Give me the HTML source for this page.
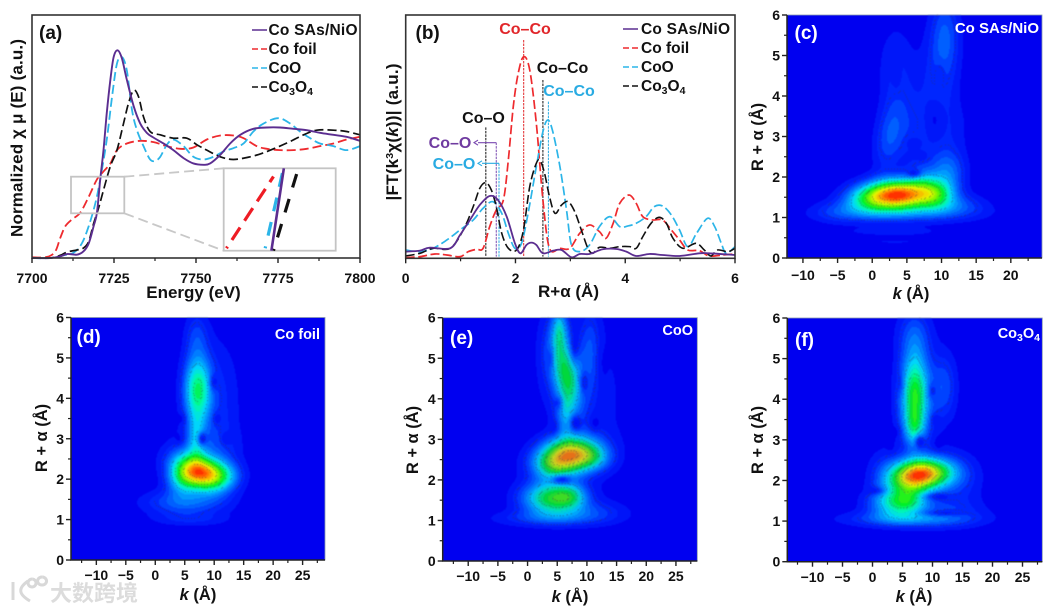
<!DOCTYPE html>
<html lang="en">
<head>
<meta charset="utf-8">
<title>XANES, EXAFS and wavelet transform panels</title>
<style>
html,body{margin:0;padding:0;background:#fff;width:1050px;height:610px;overflow:hidden}
svg{display:block}
#fig{filter:blur(.35px)}
text{font-family:"Liberation Sans","Noto Sans CJK SC",sans-serif;font-weight:bold;fill:#111}
.lbl{font-size:15.5px}
.tick{font-size:14px}
.title{font-size:17px}
.htitle{font-size:16.5px}
.plabel{font-size:19px}
.heatblur{filter:blur(.6px)}
</style>
</head>
<body>
<svg id="fig" xmlns="http://www.w3.org/2000/svg" width="1050" height="610" viewBox="0 0 1050 610">
  <g id="panelA"></g>
  <g id="panelB"></g>
  <g id="heatC"></g>
  <g id="heatD"></g>
  <g id="heatE"></g>
  <g id="heatF"></g>

  <!-- panel a text -->
  <text class="plabel" x="39" y="39">(a)</text>
  <text class="title" x="193.500" y="298" text-anchor="middle">Energy (eV)</text>
  <text class="title" transform="translate(22.500,138) rotate(-90)" text-anchor="middle" textLength="198">Normalized χ μ (E) (a.u.)</text>
  <g>
    <line x1="252" x2="267" y1="30" y2="30" stroke="#5b2d90" stroke-width="1.500"/>
    <text class="lbl" x="268.500" y="35" textLength="89">Co SAs/NiO</text>
    <line x1="252" x2="267" y1="49" y2="49" stroke="#ee2a2e" stroke-width="1.500" stroke-dasharray="6 3"/>
    <text class="lbl" x="268.500" y="54">Co foil</text>
    <line x1="252" x2="267" y1="68" y2="68" stroke="#2cb5e8" stroke-width="1.500" stroke-dasharray="6 3"/>
    <text class="lbl" x="268.500" y="73">CoO</text>
    <line x1="252" x2="267" y1="87" y2="87" stroke="#111" stroke-width="1.500" stroke-dasharray="6 3"/>
    <text class="lbl" x="268.500" y="92">Co<tspan font-size="10.500" dy="3">3</tspan><tspan dy="-3">O</tspan><tspan font-size="10.500" dy="3">4</tspan></text>
  </g>

  <!-- panel b text -->
  <text class="plabel" x="415.500" y="39">(b)</text>
  <text class="title" x="568.500" y="297" text-anchor="middle">R+α (Å)</text>
  <text class="title" transform="translate(398,132) rotate(-90)" text-anchor="middle" textLength="137">|FT(k<tspan font-size="10.500" dy="-5">3</tspan><tspan dy="5">χ(</tspan><tspan font-style="italic">k</tspan>))| (a.u.)</text>
  <g>
    <line x1="623" x2="638" y1="29" y2="29" stroke="#5b2d90" stroke-width="1.500"/>
    <text class="lbl" x="641" y="34" textLength="89">Co SAs/NiO</text>
    <line x1="623" x2="638" y1="48" y2="48" stroke="#ee2a2e" stroke-width="1.500" stroke-dasharray="6 3"/>
    <text class="lbl" x="641" y="53">Co foil</text>
    <line x1="623" x2="638" y1="67" y2="67" stroke="#2cb5e8" stroke-width="1.500" stroke-dasharray="6 3"/>
    <text class="lbl" x="641" y="72">CoO</text>
    <line x1="623" x2="638" y1="86" y2="86" stroke="#111" stroke-width="1.500" stroke-dasharray="6 3"/>
    <text class="lbl" x="641" y="91">Co<tspan font-size="10.500" dy="3">3</tspan><tspan dy="-3">O</tspan><tspan font-size="10.500" dy="3">4</tspan></text>
  </g>
  <text class="lbl" x="525" y="34" text-anchor="middle" style="fill:#e1262a;font-size:16px">Co–Co</text>
  <text class="lbl" x="562.500" y="73" text-anchor="middle" style="font-size:16px">Co–Co</text>
  <text class="lbl" x="569" y="96" text-anchor="middle" style="fill:#29abe2;font-size:16px">Co–Co</text>
  <text class="lbl" x="483.500" y="123" text-anchor="middle" style="font-size:16px">Co–O</text>
  <text class="lbl" x="450" y="148" text-anchor="middle" style="fill:#6f3ba0;font-size:16px">Co–O</text>
  <text class="lbl" x="454" y="169" text-anchor="middle" style="fill:#29abe2;font-size:16px">Co–O</text>

  <!-- watermark -->
  <g>
    <path d="M13 582 L13 600 M28 581 C18 588 18 594 30 601 M32 579 a4 4 0 1 0 .1 0 M42 577 a4.500 4 0 1 0 .1 0" fill="none" stroke="#d8d8d8" stroke-width="3"/>
    <text x="50" y="601" style="font-size:22px;fill:#dcdcdc;font-family:'Liberation Sans','Noto Sans CJK SC',sans-serif">大数跨境</text>
  </g>
</svg>

<script>
/* ---------- panel (a) XANES data ---------- */
const energyTicks = [7700, 7725, 7750, 7775, 7800];

const energySas = [7700,7705.6,7708.6,7710.7,7713.7,7715.7,7717.3,7718.8,7719.8,7720.8,7721.8,7722.8,7723.9,7724.9,7726.1,7727.4,7728.9,7731,7733,7735,7737,7740.1,7743.1,7746.2,7749.2,7752.3,7754.3,7757.4,7760.4,7763.5,7767.5,7771.6,7775.6,7779.7,7783.8,7787.8,7791.9,7795.9,7800];
const muSas = [0,0,.0125,.03,.025,.05,.11,.24,.34,.59,.81,1.09,1.34,1.51,1.56,1.5,1.34,1.14,1.01,.94,.905,.86,.81,.75,.71,.70,.71,.775,.86,.925,.97,.98,.98,.97,.96,.94,.925,.91,.88];

const energyFoil = [7700,7704.6,7707.1,7708.6,7710.2,7712.2,7714.7,7717.3,7719.8,7721.8,7723.9,7725.9,7728.9,7733,7737.1,7741.1,7745.2,7749.2,7753.3,7757.4,7761.4,7764.5,7768.5,7771.6,7775.6,7779.7,7783.8,7787.8,7791.9,7795.9,7800];
const muFoil = [.005,.008,.05,.15,.24,.29,.34,.46,.59,.65,.71,.81,.86,.88,.87,.84,.82,.83,.89,.92,.92,.9,.84,.82,.81,.81,.82,.84,.86,.89,.91];

const energyCoO = [7700,7705.6,7709.6,7712.7,7715.2,7717.3,7719.3,7720.8,7722.8,7724.4,7725.9,7727.4,7728.9,7730.5,7732,7734,7736,7737.6,7739.1,7741.1,7743.1,7746.2,7749.2,7752.3,7755.3,7758.4,7761.4,7764.5,7767.5,7770.6,7775.1,7778.7,7781.7,7784.8,7787.8,7791.9,7795.9,7800];
const muCoO = [0,0,.02,.04,.11,.24,.41,.59,.89,1.21,1.46,1.51,1.41,1.11,.96,.84,.74,.73,.76,.85,.89,.84,.76,.74,.76,.8,.825,.86,.95,1.01,1.05,1.01,.95,.9,.86,.84,.81,.84];

const energyCo3O4 = [7700,7705.6,7708.6,7710.7,7713.7,7715.7,7717.3,7718.8,7720.3,7721.8,7723.9,7725.9,7727.9,7729.4,7731,7732.5,7734,7736,7739.1,7743.1,7747.2,7750.3,7753.3,7757.4,7761.4,7766.5,7770.6,7774.6,7778.7,7782.8,7786.8,7791.9,7795.9,7800];
const muCo3O4 = [0,0,.02,.045,.06,.075,.125,.26,.375,.51,.69,.81,1.01,1.16,1.26,1.21,1.06,.95,.925,.9,.9,.85,.81,.76,.74,.76,.79,.83,.875,.925,.96,.96,.95,.925];

/* inset: magnified edge segments */
const insetEnergyFoil = [7712.2, 7719];
const insetMuFoil = [.348, .583];
const insetEnergyCoO = [7717.8, 7720.4];
const insetMuCoO = [.348, .605];
const insetEnergySas = [7718.7, 7720.5];
const insetMuSas = [.34, .61];
const insetEnergyCo3O4 = [7719, 7722.6];
const insetMuCo3O4 = [.34, .61];

/* ---------- panel (b) FT-EXAFS data ---------- */
const radiusTicks = [0, 2, 4, 6];

const radiusSas = [0,.26,.44,.81,.99,1.17,1.35,1.53,1.68,1.84,1.99,2.09,2.2,2.29,2.38,2.5,2.69,2.84,3.02,3.17,3.35,3.59,3.84,4.02,4.2,4.44,4.68,4.99,5.35,5.53,6];
const ftSas = [.2,.23,.32,.3,.7,1.15,1.6,1.87,1.75,1.25,.45,.15,.4,.47,.4,.15,.23,.25,.03,.13,.13,.27,.28,.2,.07,.13,.1,.07,.15,.15,.1];

const radiusFoil = [0,.26,.53,.75,.99,1.14,1.29,1.41,1.53,1.65,1.78,1.87,1.96,2.05,2.15,2.26,2.38,2.5,2.62,2.81,2.99,3.17,3.35,3.53,3.65,3.78,3.9,4.07,4.2,4.32,4.5,4.68,4.84,4.99,5.14,5.35,5.53,5.78,6];
const ftFoil = [.02,.05,.13,.1,.05,.2,.27,.3,.95,1.45,1.75,2.95,4.55,5.55,6.05,5.65,4.05,1.75,.3,.3,.3,.75,1.0,.8,.6,1.05,1.65,1.9,1.65,1.25,1.15,1.15,.85,.55,.25,.23,.07,.1,.13];

const radiusCoO = [0,.26,.5,.75,.99,1.23,1.41,1.59,1.75,1.87,1.99,2.11,2.23,2.38,2.5,2.59,2.68,2.81,2.93,3.02,3.17,3.35,3.53,3.72,3.9,4.05,4.2,4.38,4.53,4.68,4.84,4.99,5.14,5.3,5.5,5.63,5.75,5.84,6];
const ftCoO = [.25,.2,.3,.55,.85,1.15,1.5,1.7,1.35,.75,.3,.45,1.35,2.75,3.8,4.15,3.8,2.75,1.45,.4,.2,.4,.95,1.25,.95,.97,1.05,1.25,1.55,1.57,1.3,.85,.35,.75,1.2,.95,.45,.15,.35];

const radiusCo3O4 = [0,.26,.5,.81,1.05,1.23,1.35,1.46,1.56,1.65,1.75,1.87,2.02,2.14,2.26,2.38,2.45,2.53,2.62,2.72,2.84,2.96,3.08,3.2,3.32,3.41,3.53,3.72,3.9,4.08,4.2,4.32,4.47,4.62,4.75,4.87,5.05,5.29,5.44,5.56,5.68,5.87,6];
const ftCo3O4 = [.07,.15,.3,.3,.85,1.55,2.1,2.27,2.05,1.55,.75,.3,.25,.8,2.15,2.85,2.93,2.55,1.85,1.35,1.6,1.7,1.4,.85,.3,.15,.33,.3,.35,.35,.3,.65,1.05,1.23,1.05,.6,.3,.45,.25,.07,.25,.2,.3];

/* peak markers: radius, top of marker in a.u., colour */
const markerRadii = [1.46, 1.65, 1.70, 2.15, 2.50, 2.60];
const markerTops = [3.93, 3.47, 2.85, 6.55, 5.35, 4.70];
const markerColors = ['#111', '#7a4ab0', '#29abe2', '#e1262a', '#111', '#29abe2'];
const markerNames = ['co-o-co3o4', 'co-o-sas', 'co-o-coo', 'co-co-foil', 'co-co-co3o4', 'co-co-coo'];

/* ---------- wavelet heatmaps: ridges in (k, R) data units ---------- */
/* each ridge: k, R, width in k, width in R, intensity, skew */
const heatTicksR = [0, 1, 2, 3, 4, 5, 6];
const heatTicksKc = [-10, -5, 0, 5, 10, 15, 20];
const heatTicksK = [-10, -5, 0, 5, 10, 15, 20, 25];

const ridgesC = [
  [3.9,1.56,3.2,.25,.92,0],[9,1.58,1.8,.25,.33,0],[-.5,1.42,2.5,.24,.3,0],
  [4,1.1,7.5,.17,.12,0],[3,.65,5,.08,.06,0],[3,.4,5,.06,.04,0],
  [-5,1.15,2.5,.2,.08,0],[12,1.3,3,.2,.13,0],[7,1.95,1.5,.25,.12,0],
  [2.5,3.0,1.5,.6,.14,.8],[10.8,2.1,1.8,.4,.2,0],[3.4,4.6,1.8,.8,.08,0],
  [6,3,2,1,.05,0],[9.5,3.2,3,.5,.07,0],[10.5,5.5,1.5,.7,.15,0],[9.5,4.3,2,.8,.08,0]
];
const holesC = [[6,2.1,.8,.08,.7],[6,2.85,.8,.1,.4],[7.2,2.5,.6,.08,.4],[9,3.4,1.2,.4,.7],[3.5,4.5,.5,.25,.5],[9.8,4.55,.5,.2,.4]];

const ridgesD = [
  [7.3,2.18,2.7,.3,.82,-2.5],[11,2.1,2.4,.25,.25,0],[4.5,1.95,1.8,.25,.22,0],
  [7.2,4.2,1.65,.62,.46,0],[7,3,1.0,.4,.18,0],[7,5.6,1.4,.4,.1,0],
  [5,1.42,4.6,.22,.18,0],[6,1.0,4.5,.12,.07,0],[11.2,3.8,2.4,1.2,.08,0],[8,2.8,4,.35,.08,0]
];
const holesD = [[4.4,3.5,.5,.1,.6],[4,3,.5,.1,.6],[8,3,.6,.12,.75],[12,3,.6,.12,.6],[10,4.4,.5,.15,.6],[10.5,3.5,.5,.12,.5]];

const ridgesE = [
  [6.6,2.58,3.3,.32,.85,2],[11,2.55,2.2,.22,.22,0],[3.8,2.3,1.8,.2,.12,0],
  [4,1.55,3.3,.28,.52,0],[7.5,1.6,1.8,.2,.22,0],
  [6.5,4.6,1.7,.62,.5,-1.1],[5.4,5.7,1,.4,.3,0],[6.3,3.6,1.2,.4,.2,0],
  [3,1.05,6,.14,.12,0],[10,1.2,4.5,.2,.12,0],[10.5,5.2,1.3,.7,.13,0],[3,5,1.5,1,.05,0],[12,4,4,1.5,.05,0]
];
const holesE = [[8.2,3.4,.6,.13,.8],[11.4,3.4,.6,.13,.7],[4.4,3.3,.5,.12,.5],[2.2,3.4,.5,.12,.4],[5.1,3.9,.5,.12,.5],[9.6,4.4,.5,.2,.6],[8,5.3,.5,.25,.6],[3.8,5,.4,.2,.4],[5.8,2,1.2,.08,.7],[12.7,4.9,.7,.4,.5]];

const ridgesF = [
  [7,2.1,3,.28,.82,1.2],[10.5,2.2,2.8,.24,.3,0],[4,1.45,3,.25,.38,0],[6.5,1.5,2,.2,.15,0],
  [7.1,4.1,1.75,.72,.55,0],[7,3.3,1.2,.3,.2,0],[7,5.6,2,.45,.13,0],
  [6,1.05,7,.14,.18,0],[12,1.2,5,.25,.08,0],[12,4.3,1.5,.6,.14,0],[14,2,3,.5,.1,0],[2,2.3,2,.4,.07,0]
];
const holesF = [[4,3.2,.5,.12,.5],[8,2.95,.6,.12,.75],[11,2.9,.5,.1,.6],[13.5,3.2,.7,.12,.6],[10.5,3.5,.5,.1,.5],[10,4.2,.5,.15,.5],[4.5,4.4,.5,.2,.4],[3,2.8,.5,.1,.4],[.3,1.75,1.2,.07,.6],[11,1.6,1.6,.07,.6],[12,1.2,2.5,.06,.6]];

const NS = 'http://www.w3.org/2000/svg';
function mk(tag, attrs, parent) {
  const el = document.createElementNS(NS, tag);
  for (const a in attrs) el.setAttribute(a, attrs[a]);
  parent.appendChild(el);
  return el;
}
function linear(d0, d1, r0, r1) {
  return v => r0 + (v - d0) / (d1 - d0) * (r1 - r0);
}
function smoothPath(xs, ys) {
  let d = 'M' + xs[0].toFixed(2) + ' ' + ys[0].toFixed(2);
  for (let i = 0; i < xs.length - 1; i++) {
    const p = Math.max(i - 1, 0), n = Math.min(i + 2, xs.length - 1);
    const c1x = xs[i] + (xs[i + 1] - xs[p]) / 6, c1y = ys[i] + (ys[i + 1] - ys[p]) / 6;
    const c2x = xs[i + 1] - (xs[n] - xs[i]) / 6, c2y = ys[i + 1] - (ys[n] - ys[i]) / 6;
    d += 'C' + c1x.toFixed(2) + ' ' + c1y.toFixed(2) + ' ' + c2x.toFixed(2) + ' ' + c2y.toFixed(2) + ' ' + xs[i + 1].toFixed(2) + ' ' + ys[i + 1].toFixed(2);
  }
  return d;
}
function drawSeries(parent, name, xVals, yVals, sx, sy, color, width, dash) {
  const p = mk('path', {
    d: smoothPath(xVals.map(sx), yVals.map(sy)),
    fill: 'none', stroke: color, 'stroke-width': width,
    'stroke-linejoin': 'round'
  }, parent);
  if (dash) p.setAttribute('stroke-dasharray', dash);
  
  
  return p;
}
function axisTicks(parent, sx, ticks, minors, yBase, labelY, fmt) {
  ticks.forEach(t => {
    const l = mk('line', {x1: sx(t), x2: sx(t), y1: yBase, y2: yBase + 5, stroke: '#222', 'stroke-width': 1.4}, parent);
    
    
    const s = mk('text', {x: sx(t), y: labelY, 'text-anchor': 'middle', 'class': 'tick'}, parent);
    s.textContent = fmt(t);
    
    
  });
  minors.forEach(t => {
    const l = mk('line', {x1: sx(t), x2: sx(t), y1: yBase, y2: yBase + 3, stroke: '#222', 'stroke-width': 1.2}, parent);
    
    
  });
}
function midpoints(t) {
  const out = [];
  for (let i = 0; i < t.length - 1; i++) out.push((t[i] + t[i + 1]) / 2);
  return out;
}

/* ---------- panel a ---------- */
(function () {
  const g = document.getElementById('panelA');
  const L = 32, R = 360, T = 15, B = 258;
  const sx = linear(7700, 7800, L, R);
  const sy = linear(0, 1.825, B, T);
  drawSeries(g, 'co-foil-curve', energyFoil, muFoil, sx, sy, '#ee2a2e', 1.8, '9 4');
  drawSeries(g, 'coo-curve', energyCoO, muCoO, sx, sy, '#2cb5e8', 1.8, '9 4');
  drawSeries(g, 'co3o4-curve', energyCo3O4, muCo3O4, sx, sy, '#111', 1.7, '9 4');
  drawSeries(g, 'co-sas-curve', energySas, muSas, sx, sy, '#5b2d90', 1.9, null);
  const frame = mk('rect', {x: L, y: T, width: R - L, height: B - T, fill: 'none', stroke: '#333', 'stroke-width': 1.6}, g);
  
  
  axisTicks(g, sx, energyTicks, midpoints(energyTicks), B, 283, String);

  const zoom = mk('rect', {x: 71, y: 176.7, width: 53.3, height: 36.6, fill: 'none', stroke: '#c4c4c4', 'stroke-width': 1.8}, g);
  
  
  const c1 = mk('line', {x1: 124.3, y1: 176.7, x2: 223.7, y2: 168.3, stroke: '#c8c8c8', 'stroke-width': 1.8, 'stroke-dasharray': '10 5'}, g);
  
  
  const c2 = mk('line', {x1: 124.3, y1: 213.3, x2: 223.7, y2: 250.7, stroke: '#c8c8c8', 'stroke-width': 1.8, 'stroke-dasharray': '10 5'}, g);
  
  
  const inset = mk('rect', {x: 223.7, y: 168.3, width: 112, height: 82.4, fill: '#fff', stroke: '#c4c4c4', 'stroke-width': 1.8}, g);
  
  
  const ix = linear(7711.8, 7728, 223.7, 335.7);
  const iy = linear(.34, .61, 250.7, 168.3);
  drawSeries(g, 'inset-co-foil', insetEnergyFoil, insetMuFoil, ix, iy, '#ee1c24', 3.2, '15 8').setAttribute('stroke-dashoffset', '13');
  drawSeries(g, 'inset-coo', insetEnergyCoO, insetMuCoO, ix, iy, '#2cb5e8', 3.2, '14 11').setAttribute('stroke-dashoffset', '12');
  drawSeries(g, 'inset-co3o4', insetEnergyCo3O4, insetMuCo3O4, ix, iy, '#111', 3.2, '14 12').setAttribute('stroke-dashoffset', '12');
  drawSeries(g, 'inset-co-sas', insetEnergySas, insetMuSas, ix, iy, '#5b2d90', 2.6, null);
})();

/* ---------- panel b ---------- */
(function () {
  const g = document.getElementById('panelB');
  const L = 405.7, R = 735, T = 15, B = 258.3;
  const sx = linear(0, 6, L, R);
  const sy = linear(0, 7.3, B, T);
  markerRadii.forEach((r, i) => {
    const m = mk('line', {x1: sx(r), x2: sx(r), y1: sy(markerTops[i]), y2: sy(.05), stroke: markerColors[i], 'stroke-width': 1, 'stroke-dasharray': '2.500 1'}, g);
    
    
  });
  const ar1 = mk('path', {d: 'M' + sx(1.65) + ' ' + sy(3.47) + 'H478M478 ' + (sy(3.47) - 2.5) + 'L474 ' + sy(3.47) + 'L478 ' + (sy(3.47) + 2.5), fill: 'none', stroke: '#7a4ab0', 'stroke-width': 1.1}, g);
  
  
  const ar2 = mk('path', {d: 'M' + sx(1.70) + ' ' + sy(2.85) + 'H482M482 ' + (sy(2.85) - 2.5) + 'L478 ' + sy(2.85) + 'L482 ' + (sy(2.85) + 2.5), fill: 'none', stroke: '#29abe2', 'stroke-width': 1.1}, g);
  
  
  drawSeries(g, 'co-foil-ft-curve', radiusFoil, ftFoil, sx, sy, '#ee2a2e', 1.7, '9 3.5');
  drawSeries(g, 'coo-ft-curve', radiusCoO, ftCoO, sx, sy, '#2cb5e8', 1.7, '9 3.5');
  drawSeries(g, 'co3o4-ft-curve', radiusCo3O4, ftCo3O4, sx, sy, '#111', 1.6, '9 3.5');
  drawSeries(g, 'co-sas-ft-curve', radiusSas, ftSas, sx, sy, '#5b2d90', 1.8, null);
  const frame = mk('rect', {x: L, y: T, width: R - L, height: B - T, fill: 'none', stroke: '#333', 'stroke-width': 1.6}, g);
  
  
  axisTicks(g, sx, radiusTicks, midpoints(radiusTicks), B, 283, String);
})();

/* ---------- heatmaps ---------- */
const colorStops = [
  [0, 0, 0, 240], [.1, 0, 40, 255], [.22, 0, 130, 255], [.33, 0, 215, 250], [.42, 0, 250, 170],
  [.52, 0, 240, 40], [.64, 110, 245, 0], [.76, 235, 245, 0], [.88, 255, 150, 0], [1, 255, 30, 0]
];
function colorAt(t) {
  for (let i = 1; i < colorStops.length; i++) {
    if (t <= colorStops[i][0]) {
      const a = colorStops[i - 1], b = colorStops[i];
      const f = (t - a[0]) / (b[0] - a[0]);
      return 'rgb(' + [1, 2, 3].map(j => Math.round(a[j] + (b[j] - a[j]) * f)).join(',') + ')';
    }
  }
  return 'rgb(255,30,0)';
}
function field(k, r, ridges, holes) {
  let z = 0;
  for (const p of ridges) {
    const kc = p[0] + p[5] * (r - p[1]);
    const a = (k - kc) / p[2], b = (r - p[1]) / p[3];
    const e = a * a + b * b;
    if (e < 30) z += p[4] * Math.exp(-.5 * e);
  }
  for (const h of holes) {
    const a = (k - h[0]) / h[2], b = (r - h[1]) / h[3];
    const e = a * a + b * b;
    if (e < 30) z *= 1 - h[4] * Math.exp(-.5 * e);
  }
  return Math.min(z, .999);
}
const contourLevels = [.1, .3, .44, .58, .72, .86];
function contourIndex(z) {
  let c = 0;
  for (const l of contourLevels) if (z >= l) c++;
  return c;
}
function drawHeatmap(id, box, kRange, ridges, holes, kTicks, labelY, yTitle, xTitle, letter, sample) {
  const g = document.getElementById(id);
  const L = box[0], R = box[1], T = box[2], B = box[3];
  const sk = linear(kRange[0], kRange[1], L, R);
  const kOf = linear(L, R, kRange[0], kRange[1]);
  const sr = linear(0, 6, B, T);
  const rOf = linear(B, T, 0, 6);
  const bg = mk('rect', {x: L, y: T, width: R - L, height: B - T, fill: 'rgb(0,0,240)'}, g);
  
  
  const cg = mk('g', {'class': 'heatblur'}, g);
  
  
  const N = 26;
  const w = Math.round(R - L), h = Math.round(B - T);
  const grid = [];
  for (let py = 0; py < h; py++) {
    const row = new Float32Array(w);
    for (let px = 0; px < w; px++) row[px] = field(kOf(L + px + .5), rOf(T + py + .5), ridges, holes);
    grid.push(row);
    let start = 0, lev = Math.floor(row[0] * N);
    for (let px = 1; px <= w; px++) {
      const cur = px < w ? Math.floor(row[px] * N) : -1;
      if (cur !== lev) {
        if (lev > 0) {
          const cell = mk('rect', {x: L + start, y: T + py, width: px - start, height: 1.05, fill: colorAt((lev + .5) / N)}, cg);
          
          
        }
        start = px;
        lev = cur;
      }
    }
  }
  let d = '';
  for (let py = 0; py < h - 1; py++) {
    for (let px = 0; px < w - 1; px++) {
      const c = contourIndex(grid[py][px]);
      if ((c !== contourIndex(grid[py][px + 1]) || c !== contourIndex(grid[py + 1][px])) && (px + py) % 3 === 0) {
        d += 'M' + (L + px) + ' ' + (T + py) + 'h1';
      }
    }
  }
  const contour = mk('path', {d: d, stroke: '#30304a', 'stroke-width': .8, 'stroke-opacity': .6, fill: 'none'}, cg);
  
  

  const clipEdge = mk('rect', {x: L, y: T, width: R - L, height: B - T, fill: 'none', stroke: '#8a9ab0', 'stroke-width': .8}, g);
  
  
  const spine = mk('path', {d: 'M' + L + ' ' + T + 'V' + B + 'H' + R, fill: 'none', stroke: '#222', 'stroke-width': 1.5}, g);
  
  

  const minorK = [];
  for (let v = Math.ceil(kRange[0] / 5) * 5 - 2.5; v < kRange[1]; v += 5) if (v > kRange[0]) minorK.push(v);
  axisTicks(g, sk, kTicks, minorK, B, labelY, t => (t < 0 ? '−' + (-t) : String(t)));
  heatTicksR.forEach(t => {
    const l = mk('line', {x1: L - 5, x2: L, y1: sr(t), y2: sr(t), stroke: '#222', 'stroke-width': 1.4}, g);
    
    
    const s = mk('text', {x: L - 7, y: sr(t) + 5, 'text-anchor': 'end', 'class': 'tick'}, g);
    s.textContent = t;
    
    
    if (t < 6) {
      const m = mk('line', {x1: L - 3, x2: L, y1: sr(t + .5), y2: sr(t + .5), stroke: '#222', 'stroke-width': 1.2}, g);
      
      
    }
  });
  const yt = mk('text', {transform: 'translate(' + yTitle[0] + ',' + yTitle[1] + ') rotate(-90)', 'text-anchor': 'middle', 'class': 'htitle'}, g);
  yt.textContent = 'R + α (Å)';
  
  
  const xt = mk('text', {x: xTitle[0], y: xTitle[1], 'text-anchor': 'middle', 'class': 'htitle'}, g);
  
  
  const xi = mk('tspan', {'font-style': 'italic'}, xt);
  xi.textContent = 'k';
  const xr = mk('tspan', {}, xt);
  xr.textContent = ' (Å)';
  const pl = mk('text', {x: letter[1], y: letter[2], 'class': 'plabel', style: 'fill:#fff'}, g);
  pl.textContent = letter[0];
  
  
  const sm = mk('text', {x: sample[1], y: sample[2], 'text-anchor': 'end', style: 'fill:#fff;font-size:' + sample[3] + 'px'}, g);
  sample[0].forEach(part => {
    const ts = mk('tspan', part[1] ? {'font-size': part[1], dy: part[2]} : {dy: part[2]}, sm);
    ts.textContent = part[0];
  });
  
  
}
drawHeatmap('heatC', [787, 1042, 15, 258], [-12.3, 24.5], ridgesC, holesC, heatTicksKc, 280, [763, 137], [911, 299], ['(c)', 794.5, 39], [[['Co SAs/NiO', 0, 0]], 1039, 33, 15]);
drawHeatmap('heatD', [71, 325, 317.5, 560], [-14.3, 28.8], ridgesD, holesD, heatTicksK, 580, [47, 438], [198, 600], ['(d)', 76.5, 343], [[['Co foil', 0, 0]], 320, 339, 14.5]);
drawHeatmap('heatE', [442.7, 697.3, 317.7, 561], [-14.3, 28.6], ridgesE, holesE, heatTicksK, 581, [418, 440], [570, 602], ['(e)', 450, 344], [[['CoO', 0, 0]], 693, 335, 14.5]);
drawHeatmap('heatF', [787.3, 1042.3, 318, 561.7], [-14.2, 28.3], ridgesF, holesF, heatTicksK, 582, [763, 440], [914, 602], ['(f)', 795, 346], [[['Co', 0, 0], ['3', 10.5, 3], ['O', 0, -3], ['4', 10.5, 3]], 1040, 338, 14.5]);
</script>
</body>
</html>
